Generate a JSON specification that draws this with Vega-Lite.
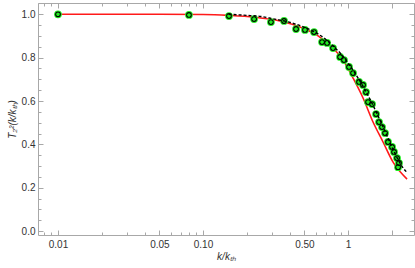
{
  "$schema": "https://vega.github.io/schema/vega-lite/v6.json",
  "width": 376,
  "height": 232,
  "autosize": {"type": "none"},
  "padding": {"left": 38, "top": 3, "right": 1, "bottom": 33},
  "config": {
    "view": {"stroke": "#a8a8a8", "strokeWidth": 1},
    "axis": {
      "domain": false,
      "grid": false,
      "labelFont": "Liberation Sans",
      "labelFontSize": 10,
      "labelColor": "#333333",
      "tickColor": "#a8a8a8",
      "titleFont": "Liberation Sans",
      "titleFontSize": 10,
      "titleColor": "#333333",
      "titleFontWeight": "normal",
      "titleFontStyle": "italic"
    }
  },
  "datasets": {
    "red": [
      {"k": 0.01, "T": 1.0}, {"k": 0.05, "T": 1.0}, {"k": 0.1, "T": 0.999},
      {"k": 0.15, "T": 0.995}, {"k": 0.225, "T": 0.987}, {"k": 0.34, "T": 0.969},
      {"k": 0.467, "T": 0.941}, {"k": 0.611, "T": 0.904}, {"k": 0.788, "T": 0.844},
      {"k": 0.924, "T": 0.789}, {"k": 1.083, "T": 0.706}, {"k": 1.269, "T": 0.614},
      {"k": 1.487, "T": 0.503}, {"k": 1.743, "T": 0.411}, {"k": 2.044, "T": 0.318},
      {"k": 2.552, "T": 0.24}
    ],
    "fit": [
      {"k": 0.15, "T": 1.0}, {"k": 0.2, "T": 0.995}, {"k": 0.25, "T": 0.99},
      {"k": 0.3, "T": 0.98}, {"k": 0.4, "T": 0.962}, {"k": 0.5, "T": 0.94},
      {"k": 0.6, "T": 0.915}, {"k": 0.7, "T": 0.885}, {"k": 0.8, "T": 0.85},
      {"k": 0.9, "T": 0.815}, {"k": 1.0, "T": 0.775}, {"k": 1.1, "T": 0.735},
      {"k": 1.2, "T": 0.695}, {"k": 1.3, "T": 0.655}, {"k": 1.4, "T": 0.615},
      {"k": 1.5, "T": 0.575}, {"k": 1.6, "T": 0.535}, {"k": 1.7, "T": 0.497},
      {"k": 1.8, "T": 0.46}, {"k": 1.9, "T": 0.425}, {"k": 2.0, "T": 0.39},
      {"k": 2.1, "T": 0.36}, {"k": 2.2, "T": 0.333}, {"k": 2.35, "T": 0.3},
      {"k": 2.55, "T": 0.27}
    ],
    "pts": [
      {"k": 0.01, "T": 1.0}, {"k": 0.08, "T": 0.997}, {"k": 0.151, "T": 0.992},
      {"k": 0.225, "T": 0.978}, {"k": 0.294, "T": 0.964}, {"k": 0.362, "T": 0.969},
      {"k": 0.438, "T": 0.932}, {"k": 0.505, "T": 0.928}, {"k": 0.583, "T": 0.918},
      {"k": 0.662, "T": 0.872}, {"k": 0.717, "T": 0.868}, {"k": 0.788, "T": 0.844},
      {"k": 0.881, "T": 0.803}, {"k": 0.938, "T": 0.789}, {"k": 1.016, "T": 0.757},
      {"k": 1.083, "T": 0.729}, {"k": 1.191, "T": 0.688}, {"k": 1.269, "T": 0.674},
      {"k": 1.331, "T": 0.641}, {"k": 1.374, "T": 0.595}, {"k": 1.464, "T": 0.586},
      {"k": 1.56, "T": 0.54}, {"k": 1.636, "T": 0.503}, {"k": 1.716, "T": 0.48},
      {"k": 1.8, "T": 0.452}, {"k": 1.887, "T": 0.411}, {"k": 2.012, "T": 0.388},
      {"k": 2.076, "T": 0.365}, {"k": 2.177, "T": 0.337}, {"k": 2.247, "T": 0.314},
      {"k": 2.213, "T": 0.295}
    ]
  },
  "layer": [
    {
      "data": {"name": "red"},
      "mark": {"type": "line", "color": "#ff1a1a", "strokeWidth": 1.6, "interpolate": "monotone"},
      "encoding": {
        "x": {
          "field": "k", "type": "quantitative",
          "scale": {"type": "log", "domain": [0.00728, 2.85], "nice": false},
          "axis": {
            "orient": "bottom",
            "values": [0.01, 0.05, 0.1, 0.5, 1, 2],
            "labelExpr": "datum.value == 0.01 ? '0.01' : datum.value == 0.05 ? '0.05' : datum.value == 0.1 ? '0.10' : datum.value == 0.5 ? '0.50' : datum.value == 1 ? '1' : ''",
            "tickSize": -5,
            "labelPadding": 9,
            "title": "k/kₜₕ",
            "titlePadding": 2
          }
        },
        "y": {
          "field": "T", "type": "quantitative",
          "scale": {"domain": [-0.018, 1.052], "nice": false, "zero": false},
          "axis": {
            "orient": "left",
            "values": [0, 0.2, 0.4, 0.6, 0.8, 1.0],
            "format": ".1f",
            "tickSize": -5,
            "labelPadding": 8,
            "title": "T₂²(k/kₜₕ)",
            "titlePadding": 4
          }
        }
      }
    },
    {
      "data": {"name": "pts"},
      "mark": {"type": "point", "filled": true, "color": "#22ee22", "size": 60, "opacity": 1},
      "encoding": {
        "x": {
          "field": "k", "type": "quantitative",
          "axis": {
            "orient": "bottom",
            "values": [0.008, 0.009, 0.02, 0.03, 0.04, 0.06, 0.07, 0.08, 0.09, 0.2, 0.3, 0.4, 0.6, 0.7, 0.8, 0.9],
            "labels": false,
            "tickSize": -3,
            "title": null
          }
        },
        "y": {
          "field": "T", "type": "quantitative",
          "axis": {
            "orient": "left",
            "values": [0.05, 0.1, 0.15, 0.25, 0.3, 0.35, 0.45, 0.5, 0.55, 0.65, 0.7, 0.75, 0.85, 0.9, 0.95, 1.05],
            "labels": false,
            "tickSize": -3,
            "title": null
          }
        }
      }
    },
    {
      "data": {"name": "pts"},
      "mark": {"type": "point", "filled": false, "stroke": "#000000", "strokeWidth": 1.1, "size": 22, "opacity": 1},
      "encoding": {
        "x": {
          "field": "k", "type": "quantitative",
          "axis": {
            "orient": "top",
            "values": [0.01, 0.05, 0.1, 0.5, 1, 2],
            "labels": false,
            "tickSize": -5,
            "title": null
          }
        },
        "y": {
          "field": "T", "type": "quantitative",
          "axis": {
            "orient": "right",
            "values": [0, 0.2, 0.4, 0.6, 0.8, 1.0],
            "labels": false,
            "tickSize": -5,
            "title": null
          }
        }
      }
    },
    {
      "data": {"name": "fit"},
      "mark": {"type": "line", "color": "#000000", "strokeDash": [3, 2], "strokeWidth": 1.4, "interpolate": "monotone"},
      "encoding": {
        "x": {
          "field": "k", "type": "quantitative",
          "axis": {
            "orient": "top",
            "values": [0.008, 0.009, 0.02, 0.03, 0.04, 0.06, 0.07, 0.08, 0.09, 0.2, 0.3, 0.4, 0.6, 0.7, 0.8, 0.9],
            "labels": false,
            "tickSize": -3,
            "title": null
          }
        },
        "y": {
          "field": "T", "type": "quantitative",
          "axis": {
            "orient": "right",
            "values": [0.05, 0.1, 0.15, 0.25, 0.3, 0.35, 0.45, 0.5, 0.55, 0.65, 0.7, 0.75, 0.85, 0.9, 0.95, 1.05],
            "labels": false,
            "tickSize": -3,
            "title": null
          }
        }
      }
    }
  ],
  "resolve": {"axis": {"x": "independent", "y": "independent"}}
}
